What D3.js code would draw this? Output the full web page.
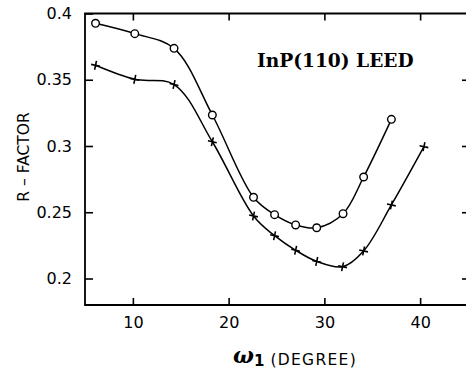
<!DOCTYPE html>
<html><head><meta charset="utf-8">
<script src="https://cdn.jsdelivr.net/npm/d3@7"></script>
<style>body{margin:0;background:#fff}svg{display:block}</style>
</head><body><svg id="chart" width="466" height="372"></svg>
<script>
// R-factor versus rotation angle omega_1, two structural models
const omegaCircle = [6.1, 10.2, 14.3, 18.3, 22.6, 24.8, 27.0, 29.2, 31.95, 34.1, 37.0];
const rCircle = [0.3926, 0.3848, 0.3737, 0.3234, 0.2613, 0.2482, 0.2404, 0.2383, 0.2489, 0.2766, 0.3201];
const omegaPlus = [6.1, 10.2, 14.3, 18.3, 22.6, 24.8, 27.0, 29.2, 31.9, 34.1, 37.0, 40.4];
const rPlus = [0.3609, 0.3503, 0.3464, 0.3032, 0.2472, 0.2323, 0.2213, 0.2129, 0.2089, 0.2208, 0.2555, 0.2995];
const xTicks = [10, 20, 30, 40];
const yTicks = [0.2, 0.25, 0.3, 0.35, 0.4];
const yTickLabels = ["0.2", "0.25", "0.3", "0.35", "0.4"];

const svg = d3.select("#chart");
const x = d3.scaleLinear().domain([5, 45]).range([85, 468]);
const y = d3.scaleLinear().domain([0.18, 0.4]).range([305, 13.5]);

const sans = "'DejaVu Sans', sans-serif";

// frame
svg.append("path")
  .attr("d", `M${x(45)},${y(0.4)}H${x(5)}V${y(0.18)}H${x(45)}V${y(0.4)}`)
  .attr("fill", "none").attr("stroke", "#000").attr("stroke-width", 1.8);

function styleAxis(g) {
  g.select(".domain").remove();
  g.selectAll(".tick line").attr("stroke", "#000").attr("stroke-width", 1.6);
  g.selectAll(".tick text").attr("fill", "#000").attr("font-family", sans).attr("font-size", 16);
}

svg.append("g").attr("transform", `translate(0,${y(0.18)})`)
  .call(d3.axisBottom(x).tickValues(xTicks).tickSize(-7).tickPadding(12).tickFormat(d3.format("d")))
  .call(styleAxis);
svg.append("g").attr("transform", `translate(0,${y(0.4)})`)
  .call(d3.axisTop(x).tickValues(xTicks).tickSize(-7).tickFormat(""))
  .call(styleAxis);
svg.append("g").attr("transform", `translate(${x(5)},0)`)
  .call(d3.axisLeft(y).tickValues(yTicks).tickSize(-8).tickPadding(13)
    .tickFormat((d, i) => yTickLabels[i]))
  .call(styleAxis);
svg.append("g").attr("transform", `translate(${x(45)},0)`)
  .call(d3.axisRight(y).tickValues(yTicks.slice(0, 4)).tickSize(-6).tickFormat(""))
  .call(styleAxis);

// curves
const line = d3.line().x(d => x(d[0])).y(d => y(d[1])).curve(d3.curveCatmullRom.alpha(0.5));
const circ = omegaCircle.map((w, i) => [w, rCircle[i]]);
const plus = omegaPlus.map((w, i) => [w, rPlus[i]]);
[circ, plus].forEach(pts => svg.append("path").attr("d", line(pts))
  .attr("fill", "none").attr("stroke", "#000").attr("stroke-width", 1.5));

svg.append("g").selectAll("circle").data(circ).join("circle")
  .attr("cx", d => x(d[0])).attr("cy", d => y(d[1])).attr("r", 3.8)
  .attr("fill", "#fff").attr("stroke", "#000").attr("stroke-width", 1.4);

svg.append("g").selectAll("path").data(plus).join("path")
  .attr("transform", d => `translate(${x(d[0])},${y(d[1])}) rotate(12)`)
  .attr("d", "M-4.5,0H4.5M0,-4.5V4.5")
  .attr("stroke", "#000").attr("stroke-width", 1.6);

// annotation
svg.append("text").attr("x", 257).attr("y", 67)
  .attr("font-family", "'DejaVu Serif', serif").attr("font-size", 18.6).attr("font-weight", "bold")
  .text("InP(110) LEED");

// axis titles
const xt = svg.append("text").attr("y", 363).attr("font-family", sans).attr("fill", "#000");
xt.append("tspan").attr("x", 233).attr("font-family", "'DejaVu Serif', serif")
  .attr("font-style", "italic").attr("font-weight", "bold").attr("font-size", 22).text("ω");
xt.append("tspan").attr("dy", 3).attr("font-weight", "bold").attr("font-size", 15).text("1");
xt.append("tspan").attr("dx", 6).attr("dy", -1).attr("font-size", 15.5).attr("letter-spacing", 1.3).text("(DEGREE)");

svg.append("text")
  .attr("transform", "translate(28.5,157) rotate(-90)")
  .attr("text-anchor", "middle").attr("font-family", sans).attr("font-size", 15.5)
  .text("R – FACTOR");
</script></body></html>
